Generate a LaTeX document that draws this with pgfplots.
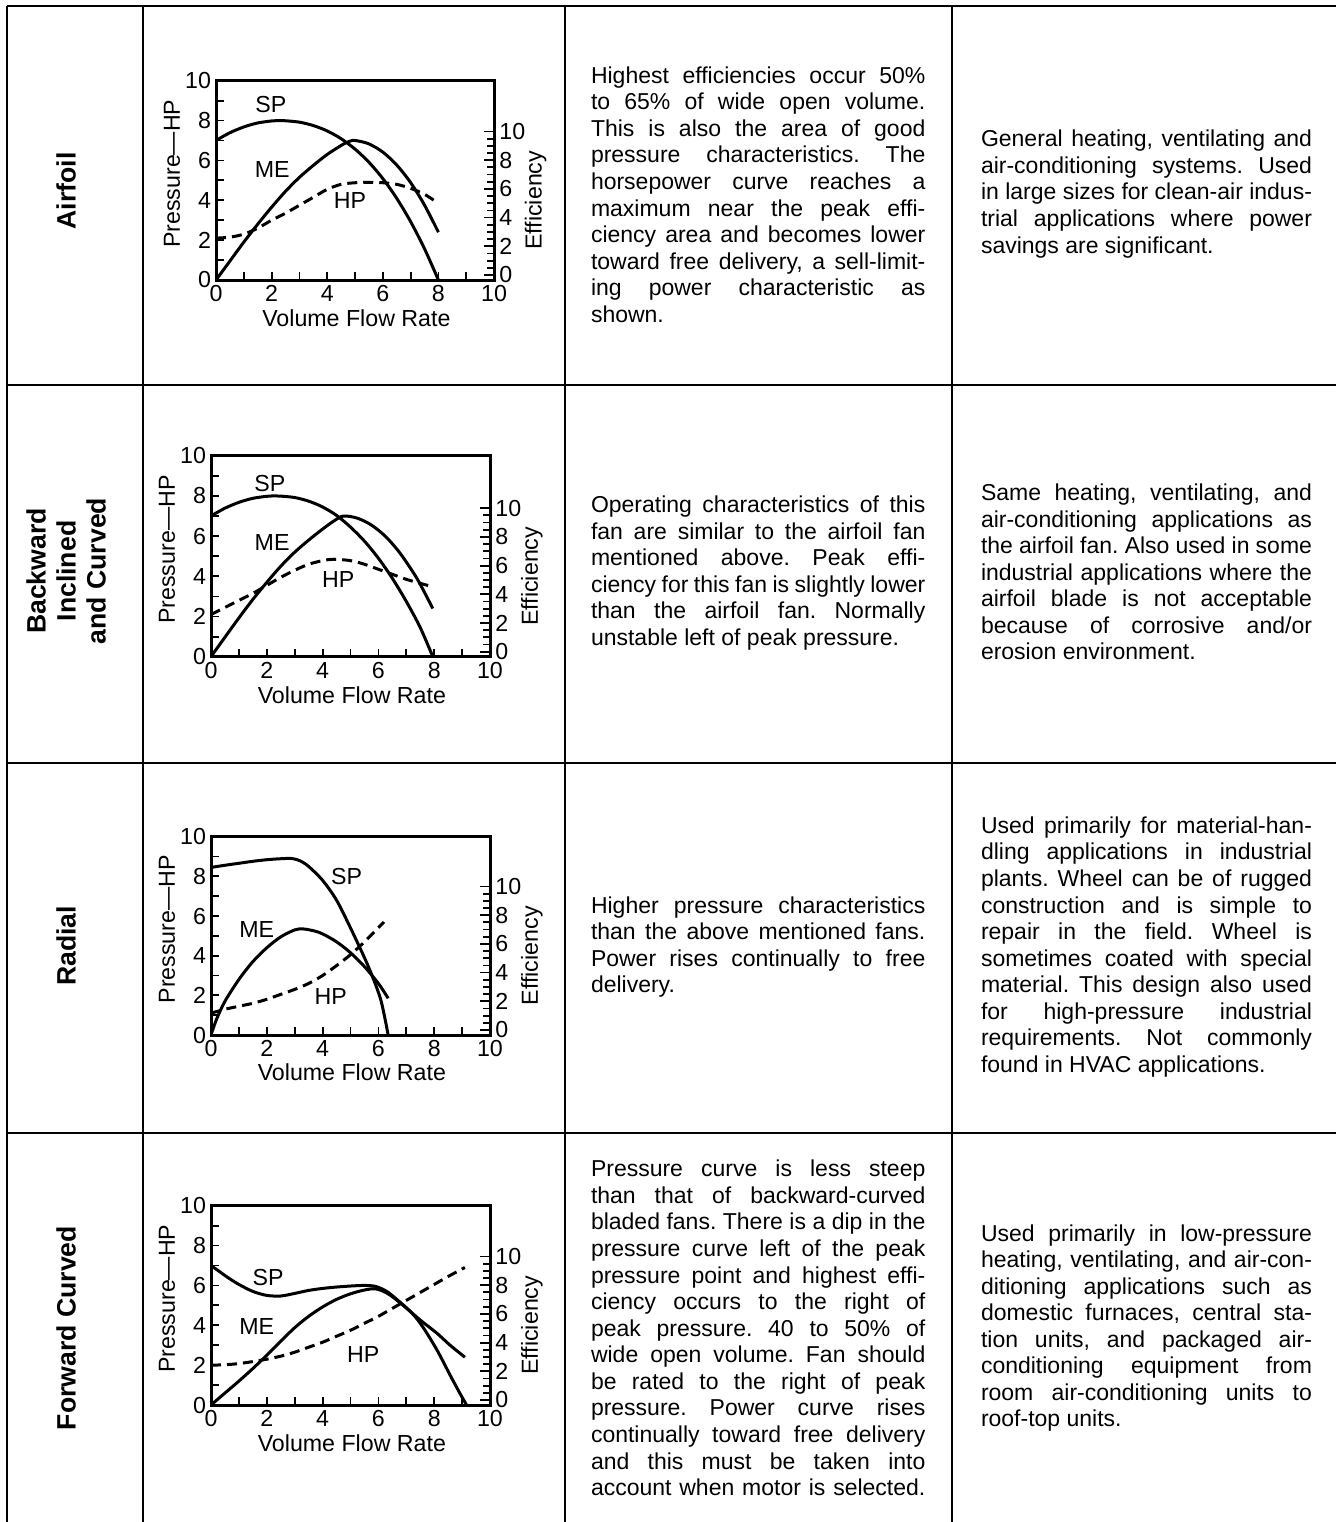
\documentclass[border=0pt]{standalone}
\usepackage{fontspec}
\setmainfont{Liberation Sans}
\usepackage{pgfplots}
\pgfplotsset{compat=1.18}

\newcommand\cf{\fontsize{11.6}{13}\selectfont}
\newcommand\bodyf{\fontsize{11.5}{13.28}\selectfont\frenchspacing}
\newcommand\rowf{\bfseries\fontsize{13.3}{15}\selectfont}
\newcommand\JA[1]{\makebox[167.2pt][s]{\spaceskip=0pt\xspaceskip=0pt\frenchspacing #1}}
\newcommand\JB[1]{\makebox[165.5pt][s]{\spaceskip=0pt\xspaceskip=0pt\frenchspacing #1}}
\newcommand\LL[1]{{\spaceskip=0pt\xspaceskip=0pt\frenchspacing #1}}

\tikzset{
  cur/.style={black, line width=1.5pt, smooth},
  dsh/.style={black, line width=1.5pt, smooth, dash pattern=on 5pt off 3pt},
  tb/.style={anchor=west, inner sep=0pt, align=left, font=\bodyf},
  rl/.style={rotate=90, inner sep=0pt, align=center, font=\rowf},
  cl/.style={font=\cf, inner sep=0pt},
}

\pgfplotsset{
  fanP/.style={
    scale only axis, anchor=south west,
    xmin=0,xmax=10,ymin=0,ymax=10,
    xtick={0,2,...,10}, ytick={0,2,...,10},
    minor xtick={1,3,...,9}, minor ytick={1,3,...,9},
    xtick pos=left, ytick pos=left,
    tick align=inside,
    major tick length=4pt, minor tick length=4pt,
    tick style={black, line width=0.9pt},
    axis line style={line width=1.5pt},
    /pgf/number format/assume math mode=true,
    tick label style={font=\cf},
    label style={font=\cf},
    xticklabel style={inner sep=0pt, yshift=-2.6pt},
    yticklabel style={inner sep=0pt, xshift=-2.3pt},
    xlabel={Volume Flow Rate},
    xlabel style={at={(axis description cs:0.505,-0.19)}, anchor=center},
    ylabel={Pressure—HP},
    ylabel style={at={(axis description cs:-0.158,0.533)}, anchor=center},
  },
  fanE/.style={
    scale only axis, anchor=south west,
    xmin=0,xmax=10, ymin=-0.35,
    axis x line=none, axis y line*=right,
    axis line style={draw=none},
    ytick={0,2,...,10}, minor ytick={0.5,1,...,9.5},
    tick align=inside,
    major tick length=5pt, minor tick length=3.5pt,
    tick style={black, line width=0.9pt},
    /pgf/number format/assume math mode=true,
    tick label style={font=\cf}, label style={font=\cf},
    yticklabel style={inner sep=0pt, xshift=2.5pt},
    ylabel={Efficiency},
    ylabel style={at={(axis description cs:1.15,0.40)}, anchor=center},
  },
}

\begin{document}
\begin{tikzpicture}
\useasboundingbox (0pt,0pt) rectangle (668pt,-761pt);

% ---------- table lines ----------
\begin{scope}[line width=1.1pt, black]
\draw (3.5pt,-3pt) -- (668pt,-3pt);
\draw (3.5pt,-192.5pt) -- (668pt,-192.5pt);
\draw (3.5pt,-381.5pt) -- (668pt,-381.5pt);
\draw (3.5pt,-566.5pt) -- (668pt,-566.5pt);
\draw (3.5pt,-3pt) -- (3.5pt,-761pt);
\draw (71.5pt,-3pt) -- (71.5pt,-761pt);
\draw (282.5pt,-3pt) -- (282.5pt,-761pt);
\draw (476pt,-3pt) -- (476pt,-761pt);
\end{scope}

% ---------- row labels ----------
\node[rl] at (33pt,-95.5pt) {Airfoil};
\node[rl] at (33pt,-285.5pt) {Backward\\Inclined\\and Curved};
\node[rl] at (33pt,-473pt) {Radial};
\node[rl] at (33pt,-664pt) {Forward Curved};

% ---------- Airfoil ----------
\begin{axis}[fanP, at={(108pt,-140pt)}, width=139pt, height=99.65pt]
\addplot[cur] coordinates {(0,7.0)(0.5,7.39)(1,7.68)(1.5,7.88)(2,7.98)(2.3,8.0)(2.5,7.99)(3,7.92)(3.5,7.75)(4,7.48)(4.5,7.09)(5,6.57)(5.5,5.91)(6,5.09)(6.5,4.1)(7,2.93)(7.5,1.57)(8,0)};
\addplot[cur] coordinates {(0,0)(0.5,0.95)(1,1.9)(1.5,2.8)(2,3.65)(2.5,4.45)(3,5.15)(3.5,5.75)(4,6.3)(4.5,6.75)(4.7,6.9)(4.9,7.0)(5.1,6.98)(5.5,6.83)(6,6.42)(6.5,5.77)(7,4.89)(7.5,3.76)(8,2.4)};
\addplot[dsh] coordinates {(0,2.1)(0.5,2.15)(1,2.3)(1.5,2.6)(2,3.0)(2.5,3.35)(3,3.75)(3.5,4.15)(4,4.55)(4.5,4.8)(5,4.88)(5.5,4.9)(6,4.88)(6.5,4.8)(7,4.6)(7.5,4.3)(8,3.85)};
\node[cl] at (axis cs:1.97,8.83) {SP};
\node[cl] at (axis cs:2.02,5.55) {ME};
\node[cl] at (axis cs:4.82,4.01) {HP};
\end{axis}
\begin{axis}[fanE, at={(108pt,-140pt)}, width=139pt, height=99.65pt, ymax=13.54]
\end{axis}

% ---------- Backward ----------
\begin{axis}[fanP, at={(105.5pt,-328.35pt)}, width=139.5pt, height=100.5pt]
\addplot[cur] coordinates {(0,7.0)(0.5,7.39)(1,7.68)(1.5,7.88)(2,7.98)(2.3,8.0)(2.5,7.99)(3,7.92)(3.5,7.74)(4,7.45)(4.5,7.03)(5,6.45)(5.5,5.75)(6,4.9)(6.5,3.9)(7,2.75)(7.5,1.45)(7.95,0)};
\addplot[cur] coordinates {(0,0)(0.5,0.97)(1,1.93)(1.5,2.85)(2,3.7)(2.5,4.5)(3,5.2)(3.5,5.8)(4,6.35)(4.4,6.75)(4.75,7.0)(5.25,6.89)(5.75,6.55)(6.25,5.99)(6.75,5.2)(7.25,4.19)(7.5,3.6)(7.95,2.4)};
\addplot[dsh] coordinates {(0,2.1)(0.5,2.45)(1,2.8)(1.5,3.15)(2,3.55)(2.5,3.95)(3,4.3)(3.5,4.6)(4,4.78)(4.4,4.85)(5,4.78)(5.5,4.6)(6,4.35)(6.5,4.1)(7,3.85)(7.5,3.65)(7.95,3.48)};
\node[cl] at (axis cs:2.11,8.62) {SP};
\node[cl] at (axis cs:2.19,5.69) {ME};
\node[cl] at (axis cs:4.56,3.85) {HP};
\end{axis}
\begin{axis}[fanE, at={(105.5pt,-328.35pt)}, width=139.5pt, height=100.5pt, ymax=13.66]
\end{axis}

% ---------- Radial ----------
\begin{axis}[fanP, at={(105.5pt,-517.5pt)}, width=139.5pt, height=99.15pt]
\addplot[cur] coordinates {(0,8.45)(0.5,8.56)(1,8.66)(1.5,8.76)(2,8.84)(2.5,8.89)(2.9,8.9)(3.2,8.78)(3.5,8.5)(4,7.8)(4.5,6.8)(5,5.4)(5.5,3.9)(5.8,2.9)(6.1,1.7)(6.35,0)};
\addplot[cur] coordinates {(0,0)(0.2,0.8)(0.5,1.7)(1,2.8)(1.5,3.7)(2,4.4)(2.5,4.95)(3,5.3)(3.3,5.35)(3.7,5.25)(4,5.1)(4.5,4.7)(5,4.15)(5.5,3.45)(6,2.6)(6.35,1.85)};
\addplot[dsh] coordinates {(0,1.1)(0.5,1.3)(1,1.45)(1.5,1.6)(2,1.8)(2.5,2.05)(3,2.3)(3.5,2.6)(4,3.0)(4.5,3.5)(5,4.05)(5.5,4.7)(6.2,5.7)};
\node[cl] at (axis cs:4.86,7.98) {SP};
\node[cl] at (axis cs:1.64,5.34) {ME};
\node[cl] at (axis cs:4.29,1.93) {HP};
\end{axis}
\begin{axis}[fanE, at={(105.5pt,-517.5pt)}, width=139.5pt, height=99.15pt, ymax=13.47]
\end{axis}

% ---------- Forward ----------
\begin{axis}[fanP, at={(105.5pt,-702.5pt)}, width=139.5pt, height=99.65pt]
\addplot[cur] coordinates {(0,7.0)(0.3,6.7)(0.6,6.4)(1,6.05)(1.5,5.7)(2,5.5)(2.5,5.47)(3,5.6)(3.5,5.75)(4,5.85)(4.5,5.92)(5,5.97)(5.5,6.0)(5.9,5.95)(6.3,5.7)(6.7,5.25)(7.2,4.62)(7.6,3.9)(8.1,2.76)(8.57,1.5)(8.92,0.59)(9.16,0)};
\addplot[cur] coordinates {(0,0)(0.5,0.6)(1,1.2)(1.5,1.83)(2,2.5)(2.5,3.2)(3,3.88)(3.5,4.45)(4,4.92)(4.5,5.3)(5,5.58)(5.5,5.77)(5.9,5.83)(6.3,5.62)(6.7,5.22)(7.2,4.62)(7.6,4.15)(8.1,3.6)(8.57,3.0)(9.1,2.4)};
\addplot[dsh] coordinates {(0,2.0)(0.5,2.02)(1,2.08)(1.5,2.18)(2,2.3)(2.5,2.45)(3,2.65)(3.5,2.9)(4,3.15)(4.5,3.45)(5,3.75)(5.5,4.1)(6,4.45)(6.5,4.85)(7,5.25)(7.5,5.65)(8,6.05)(8.5,6.45)(9.1,6.9)};
\node[cl] at (axis cs:2.05,6.4) {SP};
\node[cl] at (axis cs:1.64,3.96) {ME};
\node[cl] at (axis cs:5.46,2.51) {HP};
\end{axis}
\begin{axis}[fanE, at={(105.5pt,-702.5pt)}, width=139.5pt, height=99.65pt, ymax=13.54]
\end{axis}

% ---------- description texts ----------
\node[tb, text width=167.2pt] at (295.3pt,-97.25pt) {%
\JA{Highest efficiencies occur 50\%}\\
\JA{to 65\% of wide open volume.}\\
\JA{This is also the area of good}\\
\JA{pressure characteristics. The}\\
\JA{horsepower curve reaches a}\\
\JA{maximum near the peak effi-}\\
\JA{ciency area and becomes lower}\\
\JA{toward free delivery, a sell-limit-}\\
\JA{ing power characteristic as}\\
\LL{shown.}};

\node[tb, text width=165.5pt] at (490.3pt,-97pt) {%
\JB{General heating, ventilating and}\\
\JB{air-conditioning systems. Used}\\
\JB{in large sizes for clean-air indus-}\\
\JB{trial applications where power}\\
\LL{savings are significant.}};

\node[tb, text width=167.2pt] at (295.3pt,-286.5pt) {%
\JA{Operating characteristics of this}\\
\JA{fan are similar to the airfoil fan}\\
\JA{mentioned above. Peak effi-}\\
\JA{ciency for this fan is slightly lower}\\
\JA{than the airfoil fan. Normally}\\
\LL{unstable left of peak pressure.}};

\node[tb, text width=165.5pt] at (490.3pt,-286pt) {%
\JB{Same heating, ventilating, and}\\
\JB{air-conditioning applications as}\\
\JB{the airfoil fan. Also used in some}\\
\JB{industrial applications where the}\\
\JB{airfoil blade is not acceptable}\\
\JB{because of corrosive and/or}\\
\LL{erosion environment.}};

\node[tb, text width=167.2pt] at (295.3pt,-473.5pt) {%
\JA{Higher pressure characteristics}\\
\JA{than the above mentioned fans.}\\
\JA{Power rises continually to free}\\
\LL{delivery.}};

\node[tb, text width=165.5pt] at (490.3pt,-473.5pt) {%
\JB{Used primarily for material-han-}\\
\JB{dling applications in industrial}\\
\JB{plants. Wheel can be of rugged}\\
\JB{construction and is simple to}\\
\JB{repair in the field. Wheel is}\\
\JB{sometimes coated with special}\\
\JB{material. This design also used}\\
\JB{for high-pressure industrial}\\
\JB{requirements. Not commonly}\\
\LL{found in HVAC applications.}};

\node[tb, text width=167.2pt] at (295.3pt,-664pt) {%
\JA{Pressure curve is less steep}\\
\JA{than that of backward-curved}\\
\JA{bladed fans. There is a dip in the}\\
\JA{pressure curve left of the peak}\\
\JA{pressure point and highest effi-}\\
\JA{ciency occurs to the right of}\\
\JA{peak pressure. 40 to 50\% of}\\
\JA{wide open volume. Fan should}\\
\JA{be rated to the right of peak}\\
\JA{pressure. Power curve rises}\\
\JA{continually toward free delivery}\\
\JA{and this must be taken into}\\
\JA{account when motor is selected.}};

\node[tb, text width=165.5pt] at (490.3pt,-664pt) {%
\JB{Used primarily in low-pressure}\\
\JB{heating, ventilating, and air-con-}\\
\JB{ditioning applications such as}\\
\JB{domestic furnaces, central sta-}\\
\JB{tion units, and packaged air-}\\
\JB{conditioning equipment from}\\
\JB{room air-conditioning units to}\\
\LL{roof-top units.}};

\end{tikzpicture}
\end{document}
